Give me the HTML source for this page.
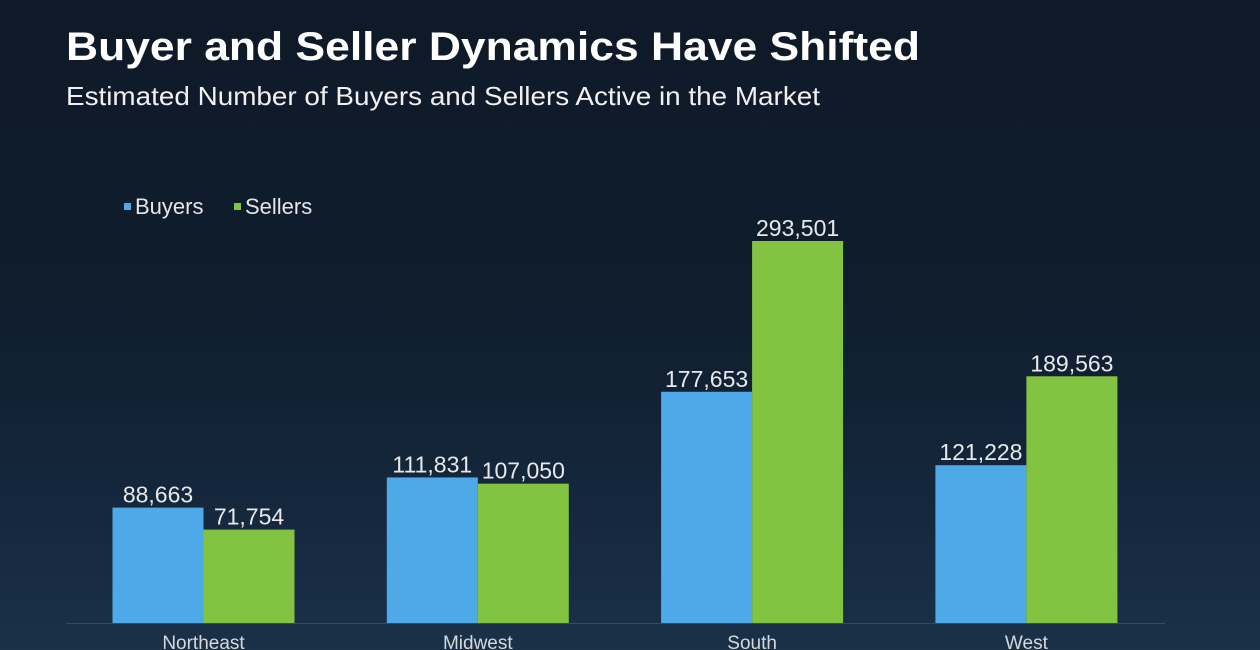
<!DOCTYPE html>
<html><head><meta charset="utf-8"><style>
html,body{margin:0;padding:0}
body{width:1260px;height:650px;overflow:hidden;background:linear-gradient(180deg,#0f1a28 0%,#0f1d2d 45%,#15283e 80%,#1a3148 100%);font-family:"Liberation Sans",Arial,sans-serif}
</style></head><body>
<svg id="chart" width="1260" height="650" xmlns="http://www.w3.org/2000/svg" font-family="Liberation Sans, Arial, sans-serif" style="display:block">
<text x="66" y="60" fill="#ffffff" font-size="40" font-weight="bold" textLength="854" lengthAdjust="spacingAndGlyphs">Buyer and Seller Dynamics Have Shifted</text>
<text x="66" y="105" fill="#f0f0f0" font-size="26" textLength="754" lengthAdjust="spacingAndGlyphs">Estimated Number of Buyers and Sellers Active in the Market</text>
<g>
<rect x="124" y="203" width="7" height="7" fill="#4ea9e8"/>
<text x="135" y="214" fill="#e6e6e6" font-size="22">Buyers</text>
<rect x="234" y="203" width="7" height="7" fill="#82c341"/>
<text x="245" y="214" fill="#e6e6e6" font-size="22">Sellers</text>
</g>
<line x1="66" y1="623.5" x2="1165" y2="623.5" stroke="#3a4a5c" stroke-width="1"/>
<g id="bars"></g>
</svg>
<script>
const categories = ["Northeast","Midwest","South","West"];
const buyers = [88663,111831,177653,121228];
const sellers = [71754,107050,293501,189563];
const seriesNames = ["buyers","sellers"];
const colors = ["#4ea9e8","#82c341"];

const baseY = 623, pxPerUnit = 382/293501;
const firstCenter = 203.5, groupStep = 274.3, barW = 91;
function yScale(v){ return baseY - v*pxPerUnit; }
function xCenter(i){ return firstCenter + i*groupStep; }

const NS = "http://www.w3.org/2000/svg";
const g = document.getElementById("bars");
[buyers, sellers].forEach((vals, s) => {
  vals.forEach((v, i) => {
    const x = xCenter(i) + (s === 0 ? -barW : 0);
    const r = document.createElementNS(NS, "rect");
    r.setAttribute("x", x); r.setAttribute("y", yScale(v));
    r.setAttribute("width", barW); r.setAttribute("height", baseY - yScale(v));
    r.setAttribute("fill", colors[s]);
    
    
    g.appendChild(r);
    const t = document.createElementNS(NS, "text");
    t.setAttribute("x", x + barW/2); t.setAttribute("y", yScale(v) - 5);
    t.setAttribute("text-anchor", "middle"); t.setAttribute("fill", "#e8e8e8");
    t.setAttribute("font-size", "23");
    t.textContent = v.toLocaleString("en-US");
    
    
    g.appendChild(t);
  });
});
categories.forEach((c, i) => {
  const t = document.createElementNS(NS, "text");
  t.setAttribute("x", xCenter(i)); t.setAttribute("y", 649);
  t.setAttribute("text-anchor", "middle"); t.setAttribute("fill", "#d8d8d8");
  t.setAttribute("font-size", "19");
  t.textContent = c;
  
  
  g.appendChild(t);
});
</script>
</body></html>
